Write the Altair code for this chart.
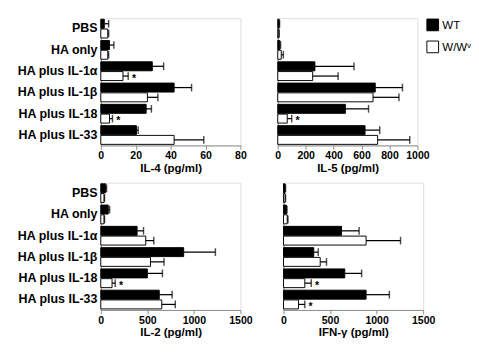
import altair as alt
import pandas as pd

categories = ["PBS", "HA only", "HA plus IL-1α", "HA plus IL-1β", "HA plus IL-18", "HA plus IL-33"]
groups = ["WT", "W/Wᵛ"]

il4_wt = [2, 5, 29.5, 42, 26, 20.4]
il4_wt_err = [2.5, 2.5, 6.5, 10, 3, 1]
il4_ww = [4, 4, 12.7, 26.7, 5, 42]
il4_ww_err = [0.5, 0.5, 3, 6, 1.7, 17]
il4_star = [False, False, True, False, True, False]

il5_wt = [10, 15, 266, 698, 484, 625]
il5_wt_err = [3, 5, 280, 195, 166, 105]
il5_ww = [8, 25, 250, 682, 68, 715]
il5_ww_err = [2, 15, 182, 186, 32, 230]
il5_star = [False, False, False, False, True, False]

il2_wt = [52, 80, 390, 890, 500, 628]
il2_wt_err = [10, 15, 69, 341, 162, 138]
il2_ww = [35, 35, 483, 534, 121, 655]
il2_ww_err = [5, 5, 86, 145, 34, 145]
il2_star = [False, False, False, False, True, False]

ifn_wt = [17, 30, 623, 325, 658, 887]
ifn_wt_err = [5, 8, 189, 48, 181, 250]
ifn_ww = [17, 40, 887, 394, 229, 161]
ifn_ww_err = [5, 8, 370, 68, 69, 68]
ifn_star = [False, False, False, False, True, True]

FONT = "Liberation Sans"


def make_df(wt, wt_err, ww, ww_err, star):
    rows = []
    for i, c in enumerate(categories):
        rows.append({"cat": c, "group": groups[0], "value": wt[i], "upper": wt[i] + wt_err[i], "star": False})
        rows.append({"cat": c, "group": groups[1], "value": ww[i], "upper": ww[i] + ww_err[i], "star": star[i]})
    return pd.DataFrame(rows)


def panel(df, title, xmax, ticks, show_y):
    if show_y:
        yaxis = alt.Axis(title=None, ticks=False, labelPadding=4, minExtent=96, maxExtent=96,
                         labelFontSize=13, labelFontWeight="bold", labelFont=FONT, labelColor="black",
                         labelLimit=100)
    else:
        yaxis = alt.Axis(title=None, ticks=False, labels=False, minExtent=0, maxExtent=0)
    base = alt.Chart(df).encode(
        y=alt.Y("cat:N", sort=categories, axis=yaxis,
                scale=alt.Scale(paddingInner=0.12, paddingOuter=0.05)),
        yOffset=alt.YOffset("group:N", sort=groups, scale=alt.Scale(paddingInner=0.08)),
    )
    xscale = alt.Scale(domain=[0, xmax], nice=False)
    xaxis = alt.Axis(values=ticks, title=title, tickSize=4, labelPadding=1,
                     format="d", labelOverlap=False, labelFlush=False,
                     labelFontSize=11, labelFontWeight="bold", labelFont=FONT,
                     titleFontSize=12, titleFontWeight="bold", titleFont=FONT,
                     titlePadding=2, labelColor="black", titleColor="black",
                     grid=False)
    bars = base.mark_bar(stroke="black", strokeWidth=1).encode(
        x=alt.X("value:Q", scale=xscale, axis=xaxis),
        fill=alt.Fill("group:N", scale=alt.Scale(domain=groups, range=["black", "white"]),
                      legend=alt.Legend(title=None, symbolType="square", symbolSize=150,
                                        symbolStrokeColor="black", symbolStrokeWidth=1,
                                        labelFontSize=12, labelFont=FONT, labelColor="black",
                                        labelOffset=3, padding=0,
                                        orient="right", offset=-10, rowPadding=5)),
    )
    rules = base.mark_rule(color="black", strokeWidth=1.3).encode(
        x=alt.X("value:Q", scale=xscale, axis=xaxis), x2="upper:Q")
    caps = base.mark_tick(color="black", thickness=1.5, size=8).encode(
        x=alt.X("upper:Q", scale=xscale, axis=xaxis))
    stars = base.transform_filter("datum.star").mark_text(
        text="*", dx=6, dy=3, fontSize=11, fontWeight="bold", font=FONT, color="black").encode(
        x=alt.X("upper:Q", scale=xscale, axis=xaxis))
    return alt.layer(bars, rules, caps, stars).properties(width=146, height=133)


p1 = panel(make_df(il4_wt, il4_wt_err, il4_ww, il4_ww_err, il4_star), "IL-4 (pg/ml)", 80, [0, 20, 40, 60, 80], True)
p2 = panel(make_df(il5_wt, il5_wt_err, il5_ww, il5_ww_err, il5_star), "IL-5 (pg/ml)", 1000, [0, 200, 400, 600, 800, 1000], False)
p3 = panel(make_df(il2_wt, il2_wt_err, il2_ww, il2_ww_err, il2_star), "IL-2 (pg/ml)", 1500, [0, 500, 1000, 1500], True)
p4 = panel(make_df(ifn_wt, ifn_wt_err, ifn_ww, ifn_ww_err, ifn_star), "IFN-γ (pg/ml)", 1500, [0, 500, 1000, 1500], False)

top = alt.hconcat(p1, p2, spacing=28)
bottom = alt.hconcat(p3, p4, spacing=28)
chart = alt.vconcat(top, bottom, spacing=8).properties(
    padding={"left": 0, "top": 2, "right": 0, "bottom": 0}
).configure_view(stroke="black", strokeWidth=1).configure_axis(
    domainColor="black", domainWidth=2, tickColor="black", tickWidth=1.5
).configure(background="white")

chart.save("out.html", embed_options={"renderer": "svg", "actions": False})
